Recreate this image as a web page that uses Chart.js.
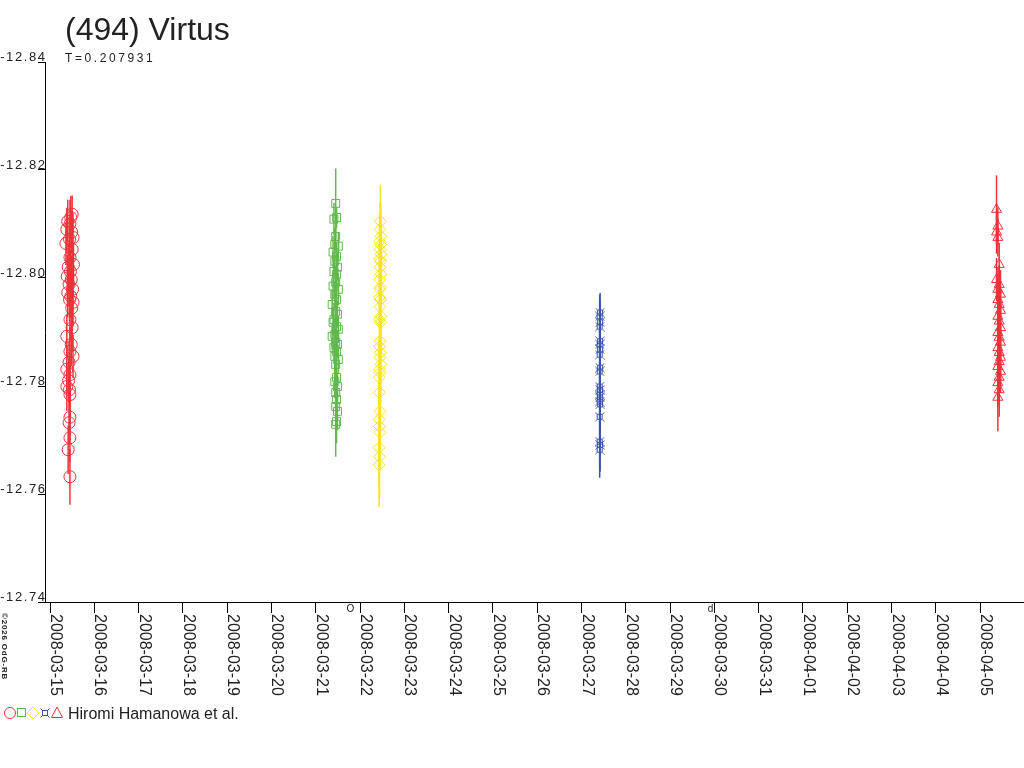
<!DOCTYPE html>
<html lang="en">
<head>
  <meta charset="UTF-8" />
  <title>(494) Virtus</title>
  <style>
    body {
      margin: 0;
      background: #fff;
      font-family: 'Liberation Sans', Arial, sans-serif;
    }
    #wrap {
      width: 1024px;
      height: 768px;
    }
  </style>
  <script src="https://cdn.jsdelivr.net/npm/chart.js"></script>
</head>
<body>
  <div id="wrap">
    <canvas id="lc" width="1024" height="768"></canvas>
  </div>

  <script>
    // x values are days since 2008-03-15 00:00 UT
    const xTickLabels = ['2008-03-15', '2008-03-16', '2008-03-17', '2008-03-18', '2008-03-19', '2008-03-20',
      '2008-03-21', '2008-03-22', '2008-03-23', '2008-03-24', '2008-03-25', '2008-03-26', '2008-03-27',
      '2008-03-28', '2008-03-29', '2008-03-30', '2008-03-31', '2008-04-01', '2008-04-02', '2008-04-03',
      '2008-04-04', '2008-04-05'];
    const yTicks = [-12.84, -12.82, -12.80, -12.78, -12.76, -12.74];
    const yTickLabels = ['-12.84', '-12.82', '-12.80', '-12.78', '-12.76', '-12.74'];

    const moonDays = [6.78, 14.91];
    const moonSymbols = ['O', 'd'];

    // session 1 - red circles
    const s1Days = [0.50, 0.47, 0.40, 0.45, 0.38, 0.49, 0.52, 0.44, 0.36, 0.50,
      0.45, 0.53, 0.41, 0.46, 0.39, 0.48, 0.43, 0.51, 0.40, 0.47,
      0.44, 0.52, 0.49, 0.45, 0.50, 0.38, 0.48, 0.45, 0.52, 0.43,
      0.38, 0.45, 0.42, 0.38, 0.44, 0.45, 0.45, 0.43, 0.45, 0.41, 0.45];
    const s1Mags = [-12.8118, -12.8112, -12.8105, -12.8100, -12.8090, -12.8085, -12.8075, -12.8072, -12.8064, -12.8053,
      -12.8038, -12.8025, -12.8020, -12.8012, -12.8003, -12.7997, -12.7988, -12.7979, -12.7973, -12.7966,
      -12.7960, -12.7955, -12.7944, -12.7923, -12.7908, -12.7892, -12.7877, -12.7864, -12.7855, -12.7844,
      -12.7831, -12.7821, -12.7810, -12.7799, -12.7793, -12.7784, -12.7742, -12.7732, -12.7704, -12.7682, -12.7632];
    const s1Errs = [0.0035, 0.0040, 0.0040, 0.0045, 0.0040, 0.0040, 0.0045, 0.0040, 0.0040, 0.0045,
      0.0040, 0.0040, 0.0045, 0.0040, 0.0040, 0.0045, 0.0040, 0.0040, 0.0045, 0.0040,
      0.0040, 0.0045, 0.0040, 0.0040, 0.0045, 0.0040, 0.0040, 0.0045, 0.0040, 0.0040,
      0.0045, 0.0040, 0.0040, 0.0045, 0.0040, 0.0040, 0.0045, 0.0040, 0.0045, 0.0045, 0.0052];

    // session 2 - green squares
    const s2Days = [6.45, 6.47, 6.41, 6.45, 6.43, 6.51, 6.39, 6.47, 6.43, 6.49,
      6.41, 6.47, 6.45, 6.39, 6.51, 6.43, 6.47, 6.37, 6.45, 6.49,
      6.41, 6.39, 6.47, 6.51, 6.43, 6.37, 6.45, 6.49, 6.41, 6.47,
      6.43, 6.51, 6.45, 6.47, 6.43, 6.49, 6.45, 6.47, 6.45, 6.49, 6.47, 6.45];
    const s2Mags = [-12.8138, -12.8112, -12.8109, -12.8077, -12.8062, -12.8059, -12.8048, -12.8040, -12.8031, -12.8020,
      -12.8012, -12.8007, -12.7992, -12.7985, -12.7979, -12.7970, -12.7960, -12.7951, -12.7938, -12.7933,
      -12.7923, -12.7918, -12.7910, -12.7905, -12.7895, -12.7892, -12.7881, -12.7877, -12.7871, -12.7864,
      -12.7855, -12.7849, -12.7840, -12.7816, -12.7808, -12.7799, -12.7788, -12.7775, -12.7762, -12.7753, -12.7734, -12.7729];
    const s2Errs = [0.0065, 0.0020, 0.0030, 0.0025, 0.0030, 0.0025, 0.0030, 0.0025, 0.0030, 0.0025,
      0.0030, 0.0025, 0.0030, 0.0025, 0.0030, 0.0025, 0.0030, 0.0025, 0.0030, 0.0025,
      0.0030, 0.0025, 0.0030, 0.0025, 0.0030, 0.0025, 0.0030, 0.0025, 0.0030, 0.0025,
      0.0030, 0.0025, 0.0030, 0.0025, 0.0030, 0.0025, 0.0030, 0.0025, 0.0030, 0.0035, 0.0040, 0.0060];

    // session 3 - yellow diamonds
    const s3Days = [7.46, 7.45, 7.47, 7.44, 7.46, 7.45, 7.47, 7.44, 7.46, 7.45,
      7.47, 7.44, 7.46, 7.45, 7.44, 7.46, 7.45, 7.47, 7.44, 7.46,
      7.45, 7.44, 7.46, 7.45, 7.47, 7.44, 7.45, 7.43, 7.44, 7.45,
      7.43, 7.44, 7.45, 7.43, 7.44, 7.43];
    const s3Mags = [-12.8105, -12.8090, -12.8077, -12.8068, -12.8062, -12.8053, -12.8044, -12.8035, -12.8031, -12.8020,
      -12.8007, -12.7997, -12.7983, -12.7979, -12.7964, -12.7960, -12.7947, -12.7929, -12.7923, -12.7918,
      -12.7883, -12.7873, -12.7862, -12.7853, -12.7840, -12.7831, -12.7825, -12.7816, -12.7788, -12.7753,
      -12.7738, -12.7725, -12.7714, -12.7686, -12.7669, -12.7654];
    const s3Errs = [0.0067, 0.0050, 0.0060, 0.0055, 0.0060, 0.0065, 0.0060, 0.0055, 0.0065, 0.0060,
      0.0065, 0.0060, 0.0070, 0.0065, 0.0060, 0.0070, 0.0065, 0.0070, 0.0065, 0.0070,
      0.0070, 0.0065, 0.0070, 0.0065, 0.0070, 0.0065, 0.0070, 0.0070, 0.0065, 0.0070,
      0.0070, 0.0065, 0.0070, 0.0070, 0.0075, 0.0078];

    // session 4 - blue
    const s4Days = [12.42, 12.41, 12.42, 12.41, 12.42, 12.41, 12.42, 12.41, 12.42, 12.41,
      12.41, 12.42, 12.41, 12.42, 12.41, 12.42, 12.41, 12.41, 12.42, 12.41];
    const s4Mags = [-12.7936, -12.7929, -12.7918, -12.7910, -12.7883, -12.7877, -12.7868, -12.7858, -12.7834, -12.7827,
      -12.7799, -12.7793, -12.7784, -12.7779, -12.7771, -12.7766, -12.7743, -12.7697, -12.7691, -12.7682];
    const s4Errs = [0.0036, 0.0040, 0.0040, 0.0045, 0.0040, 0.0045, 0.0040, 0.0045, 0.0040, 0.0045,
      0.0040, 0.0045, 0.0040, 0.0045, 0.0040, 0.0045, 0.0045, 0.0050, 0.0050, 0.0052];

    // session 5 - red triangles
    const s5Days = [21.37, 21.40, 21.37, 21.40, 21.43, 21.37, 21.43, 21.40, 21.46, 21.40,
      21.43, 21.46, 21.40, 21.43, 21.46, 21.40, 21.43, 21.46, 21.40, 21.43,
      21.46, 21.43, 21.40, 21.46, 21.43, 21.40, 21.43, 21.40];
    const s5Mags = [-12.8127, -12.8096, -12.8085, -12.8075, -12.8025, -12.7997, -12.7988, -12.7979, -12.7970, -12.7960,
      -12.7951, -12.7940, -12.7929, -12.7920, -12.7908, -12.7899, -12.7890, -12.7881, -12.7871, -12.7862,
      -12.7853, -12.7845, -12.7836, -12.7827, -12.7816, -12.7806, -12.7793, -12.7779];
    const s5Errs = [0.0063, 0.0035, 0.0040, 0.0035, 0.0040, 0.0040, 0.0035, 0.0040, 0.0045, 0.0040,
      0.0045, 0.0040, 0.0045, 0.0040, 0.0045, 0.0040, 0.0045, 0.0040, 0.0045, 0.0040,
      0.0045, 0.0040, 0.0045, 0.0040, 0.0045, 0.0045, 0.0050, 0.0063];

    const RED = '#ee3239';
    const GREEN = '#62b84e';
    const YELLOW = '#f7e320';
    const BLUE = '#3a55a8';
    const FONT = "'Liberation Sans', Arial, sans-serif";

    function pts(days, mags) {
      return days.map((d, i) => ({ x: d, y: mags[i] }));
    }

    // small square with corner spikes, like the blue marker of the original
    function blueMarker() {
      const c = document.createElement('canvas');
      c.width = 10;
      c.height = 10;
      const g = c.getContext('2d');
      g.strokeStyle = BLUE;
      g.lineWidth = 1;
      g.strokeRect(2.5, 2.5, 5, 5);
      g.beginPath();
      g.moveTo(0.5, 0.5); g.lineTo(2.5, 2.5);
      g.moveTo(9.5, 0.5); g.lineTo(7.5, 2.5);
      g.moveTo(0.5, 9.5); g.lineTo(2.5, 7.5);
      g.moveTo(9.5, 9.5); g.lineTo(7.5, 7.5);
      g.stroke();
      return c;
    }
    const blueStyle = blueMarker();

    const errorBars = {
      id: 'errorBars',
      beforeDatasetsDraw(chart) {
        const { ctx, scales: { x, y } } = chart;
        ctx.save();
        ctx.beginPath();
        ctx.rect(chart.chartArea.left, chart.chartArea.top, chart.chartArea.width, chart.chartArea.height);
        ctx.clip();
        chart.data.datasets.forEach(ds => {
          ctx.strokeStyle = ds.borderColor;
          ctx.lineWidth = 1.5;
          ds.data.forEach((p, i) => {
            const px = x.getPixelForValue(p.x);
            ctx.beginPath();
            ctx.moveTo(px, y.getPixelForValue(p.y - ds.errors[i]));
            ctx.lineTo(px, y.getPixelForValue(p.y + ds.errors[i]));
            ctx.stroke();
          });
        });
        ctx.restore();
      }
    };

    const decorations = {
      id: 'decorations',
      afterDraw(chart) {
        const { ctx, scales: { x, y } } = chart;
        ctx.save();
        ctx.fillStyle = '#222';

        // title + period
        ctx.textAlign = 'left';
        ctx.textBaseline = 'alphabetic';
        ctx.font = '32px ' + FONT;
        ctx.fillText('(494) Virtus', 65, 40);
        ctx.font = '12px ' + FONT;
        ctx.letterSpacing = '2.6px';
        ctx.fillText('T=0.207931', 65, 62);

        // y tick labels sit on top of their tick marks
        ctx.font = '13px ' + FONT;
        ctx.letterSpacing = '1.6px';
        ctx.textAlign = 'right';
        yTicks.forEach((v, i) => {
          ctx.fillText(yTickLabels[i], 46.6, y.getPixelForValue(v) - 1);
        });
        ctx.letterSpacing = '0px';

        // x tick labels, turned clockwise
        ctx.font = '16px ' + FONT;
        ctx.textAlign = 'left';
        xTickLabels.forEach((lab, i) => {
          ctx.save();
          ctx.translate(x.getPixelForValue(i) + 1, 614);
          ctx.rotate(Math.PI / 2);
          ctx.fillText(lab, 0, 0);
          ctx.restore();
        });

        // moon phases under the axis
        ctx.font = '10px ' + FONT;
        ctx.textAlign = 'center';
        ctx.textBaseline = 'top';
        moonDays.forEach((d, i) => {
          ctx.fillText(moonSymbols[i], x.getPixelForValue(d), 604);
        });

        // copyright, tiny and vertical
        ctx.save();
        ctx.font = 'bold 8px ' + FONT;
        ctx.textAlign = 'left';
        ctx.textBaseline = 'alphabetic';
        ctx.letterSpacing = '0.8px';
        ctx.translate(2, 613);
        ctx.rotate(Math.PI / 2);
        ctx.fillText('\u00a92026 OdG-RB', 0, 0);
        ctx.restore();

        // legend
        const ly = 713;
        ctx.lineWidth = 1;
        ctx.strokeStyle = RED;
        ctx.beginPath(); ctx.arc(10, ly, 5.5, 0, Math.PI * 2); ctx.stroke();
        ctx.strokeStyle = GREEN;
        ctx.strokeRect(17.5, ly - 4.5, 8, 8);
        ctx.strokeStyle = YELLOW;
        ctx.beginPath();
        ctx.moveTo(33, ly - 6); ctx.lineTo(39, ly); ctx.lineTo(33, ly + 6); ctx.lineTo(27, ly); ctx.closePath();
        ctx.stroke();
        ctx.drawImage(blueStyle, 40, ly - 5);
        ctx.strokeStyle = RED;
        ctx.beginPath();
        ctx.moveTo(57, ly - 6); ctx.lineTo(62.5, ly + 4.5); ctx.lineTo(51.5, ly + 4.5); ctx.closePath();
        ctx.stroke();
        ctx.fillStyle = '#222';
        ctx.font = '16px ' + FONT;
        ctx.textAlign = 'left';
        ctx.textBaseline = 'alphabetic';
        ctx.fillText('Hiromi Hamanowa et al.', 68, 719);

        ctx.restore();
      }
    };

    function series(days, mags, errs, color, style, radius) {
      return {
        data: pts(days, mags),
        errors: errs,
        borderColor: color,
        backgroundColor: 'rgba(0,0,0,0)',
        pointStyle: style,
        pointRadius: radius,
        pointBorderWidth: 1,
        showLine: false
      };
    }

    new Chart(document.getElementById('lc').getContext('2d'), {
      type: 'scatter',
      data: {
        datasets: [
          series(s1Days, s1Mags, s1Errs, RED, 'circle', 6),
          series(s2Days, s2Mags, s2Errs, GREEN, 'rect', 5.6),
          series(s3Days, s3Mags, s3Errs, YELLOW, 'rectRot', 6),
          series(s4Days, s4Mags, s4Errs, BLUE, blueStyle, 5),
          series(s5Days, s5Mags, s5Errs, RED, 'triangle', 5.8)
        ]
      },
      options: {
        responsive: false,
        animation: false,
        devicePixelRatio: 1,
        layout: { autoPadding: false, padding: { top: 62, left: 0, right: 0, bottom: 0 } },
        plugins: {
          legend: { display: false },
          tooltip: { enabled: false }
        },
        scales: {
          x: {
            type: 'linear',
            min: -0.113,
            max: 21.99,
            afterBuildTicks: s => { s.ticks = xTickLabels.map((_, i) => ({ value: i })); },
            afterFit: s => { s.height = 166; },
            ticks: { display: false },
            grid: { drawOnChartArea: false, tickLength: 11, tickColor: '#000' },
            border: { color: '#000', width: 1 }
          },
          y: {
            type: 'linear',
            reverse: true,
            min: -12.84,
            max: -12.74,
            afterBuildTicks: s => { s.ticks = yTicks.map(v => ({ value: v })); },
            afterFit: s => { s.width = 45; },
            ticks: { display: false },
            grid: { drawOnChartArea: false, tickLength: 7, tickColor: '#000' },
            border: { color: '#000', width: 1 }
          }
        }
      },
      plugins: [errorBars, decorations]
    });
  </script>
</body>
</html>
